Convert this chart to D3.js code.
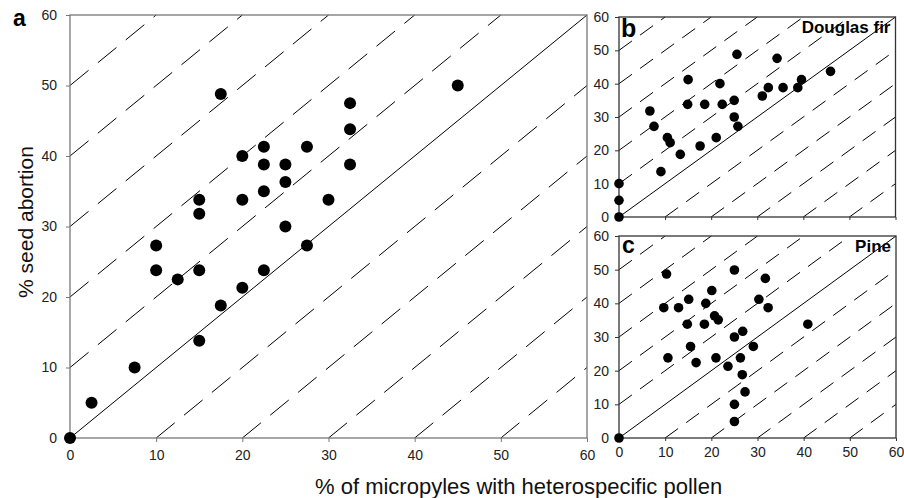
<!DOCTYPE html>
<html>
<head>
<meta charset="utf-8">
<script src="https://cdn.jsdelivr.net/npm/d3@7"></script>
<style>
  body { margin: 0; background: #fff; }
  svg { display: block; font-family: "Liberation Sans", Arial, sans-serif; }
</style>
</head>
<body>
<div id="chart"></div>
<script>
// values (% heterospecific pollen, % seed abortion)
const aX = [45, 17.5, 32.5, 32.5, 32.5, 22.5, 27.5, 20, 22.5, 25, 25, 22.5, 15, 20, 30, 15, 25, 10, 27.5, 10, 12.5, 15, 22.5, 20, 17.5, 15, 7.5, 2.5, 0];
const aY = [50, 48.8, 47.5, 43.8, 38.8, 41.3, 41.3, 40, 38.8, 38.8, 36.3, 35, 33.8, 33.8, 33.8, 31.8, 30, 27.3, 27.3, 23.8, 22.5, 23.8, 23.8, 21.3, 18.8, 13.8, 10, 5, 0];

const bX = [0, 0, 0, 6.7, 7.6, 9.1, 10.5, 11.1, 13.3, 15, 14.9, 17.6, 18.6, 21.1, 21.9, 22.4, 25, 25, 25.8, 25.6, 31.1, 32.4, 34.3, 35.6, 38.8, 39.6, 45.9];
const bY = [0, 5, 10, 31.8, 27.2, 13.6, 23.8, 22.3, 18.8, 41.2, 33.8, 21.3, 33.8, 23.8, 40, 33.8, 35, 30, 27.2, 48.8, 36.3, 38.8, 47.6, 38.8, 38.8, 41.2, 43.7];

const cX = [0, 10.3, 9.7, 10.6, 12.9, 15.1, 14.8, 15.5, 16.7, 18.5, 18.8, 20.1, 20.7, 21.5, 21, 23.6, 25, 25, 26.8, 26.3, 26.7, 27.3, 25, 25, 29.1, 30.3, 31.7, 32.3, 40.9];
const cY = [0, 48.7, 38.7, 23.8, 38.7, 41.2, 33.8, 27.2, 22.4, 33.8, 40, 43.8, 36.3, 35.1, 23.8, 21.3, 49.9, 30, 31.7, 23.8, 18.8, 13.7, 10, 4.9, 27.2, 41.2, 47.4, 38.7, 33.8];

const ticks = [0, 10, 20, 30, 40, 50, 60];
// offsets of the 1:1 reference lines (0 = solid line)
const offsets = [-50, -40, -30, -20, -10, 0, 10, 20, 30, 40, 50];

const width = 904;
const height = 498;

const svg = d3.select("#chart")
  .append("svg")
  .attr("width", width)
  .attr("height", height);

function drawPanel(p) {
  const x = d3.scaleLinear().domain([0, 60]).range([p.left, p.right]);
  const y = d3.scaleLinear().domain([0, 60]).range([p.bottom, p.top]);
  const g = svg.append("g");

  // reference lines y = x + k
  offsets.forEach(k => {
    const x1 = Math.max(0, -k), y1 = x1 + k;
    const x2 = Math.min(60, 60 - k), y2 = x2 + k;
    g.append("line")
      .attr("x1", x(x1)).attr("y1", y(y1))
      .attr("x2", x(x2)).attr("y2", y(y2))
      .attr("stroke", "#000")
      .attr("stroke-width", 1)
      .attr("stroke-dasharray", k === 0 ? null : p.dash);
  });

  // frame
  g.append("rect")
    .attr("x", p.left).attr("y", p.top)
    .attr("width", p.right - p.left)
    .attr("height", p.bottom - p.top)
    .attr("fill", "none")
    .attr("stroke", p.frame)
    .attr("stroke-width", 1.3);

  const yAxis = g.append("g")
    .attr("transform", `translate(${p.left},0)`)
    .call(d3.axisLeft(y).tickValues(ticks).tickSize(4).tickSizeOuter(0).tickPadding(p.yPad));
  const xAxis = g.append("g")
    .attr("transform", `translate(0,${p.bottom})`)
    .call(d3.axisBottom(x).tickValues(ticks).tickSize(p.xTick).tickSizeOuter(0).tickPadding(p.xPad)
      .tickFormat(p.xLabels ? d3.format("d") : ""));

  [xAxis, yAxis].forEach(ax => {
    ax.select(".domain").remove();
    ax.selectAll("line").attr("stroke", p.frame);
    ax.selectAll("text")
      .attr("fill", "#222")
      .style("font-size", "14px")
      .style("font-family", "'Liberation Sans', Arial, sans-serif");
  });

  g.selectAll("circle")
    .data(p.xs)
    .enter()
    .append("circle")
    .attr("cx", (d, i) => x(d))
    .attr("cy", (d, i) => y(p.ys[i]))
    .attr("r", p.r)
    .attr("fill", "#000");

  g.append("text")
    .attr("x", p.letterX).attr("y", p.letterY)
    .style("font-size", p.letterSize + "px")
    .style("font-weight", "bold")
    .text(p.letter);

  if (p.name) {
    g.append("text")
      .attr("x", p.right - 5).attr("y", p.top + 16)
      .attr("text-anchor", "end")
      .style("font-size", "17px")
      .style("font-weight", "bold")
      .text(p.name);
  }
}

drawPanel({ left: 70, right: 587, top: 15, bottom: 438, xs: aX, ys: aY, r: 6,
  dash: "24,12", frame: "#777", yPad: 9, xTick: 4, xPad: 8, xLabels: true,
  letter: "a", letterX: 13, letterY: 26, letterSize: 23 });
drawPanel({ left: 619, right: 895.5, top: 17, bottom: 217, xs: bX, ys: bY, r: 4.8,
  dash: "16,10", frame: "#333", yPad: 6, xTick: 3, xPad: 4, xLabels: false,
  letter: "b", letterX: 621, letterY: 36.5, letterSize: 25, name: "Douglas fir" });
drawPanel({ left: 619, right: 896, top: 236, bottom: 438, xs: cX, ys: cY, r: 4.8,
  dash: "16,10", frame: "#333", yPad: 6, xTick: 3, xPad: 6, xLabels: true,
  letter: "c", letterX: 622, letterY: 253, letterSize: 23, name: "Pine" });

svg.append("text")
  .attr("x", 315).attr("y", 494)
  .style("font-size", "22px")
  .attr("fill", "#111")
  .text("% of micropyles with heterospecific pollen");

svg.append("text")
  .attr("transform", "translate(33,222) rotate(-90)")
  .attr("text-anchor", "middle")
  .style("font-size", "21px")
  .attr("fill", "#111")
  .text("% seed abortion");
</script>
</body>
</html>
